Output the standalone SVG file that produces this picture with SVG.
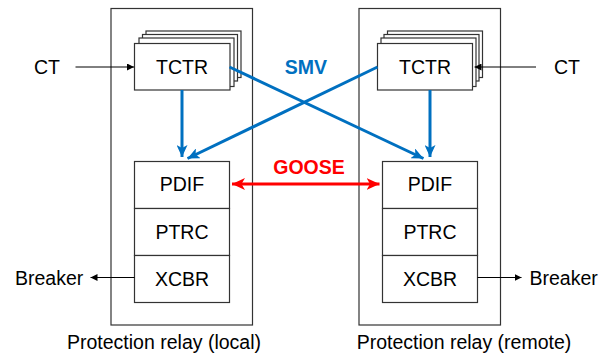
<svg xmlns="http://www.w3.org/2000/svg" width="606" height="356" viewBox="0 0 606 356">
  <style>
    .box{fill:#fff;stroke:#333;stroke-width:1.2}
    .frame{fill:none;stroke:#333;stroke-width:1.2}
    text{font-family:"Liberation Sans",Arial,sans-serif;font-size:19.5px;fill:#000}
    .mid{text-anchor:middle}
    .smv{fill:#0070C0;font-weight:bold}
    .goose{fill:#FF0000;font-weight:bold}
    .blue{stroke:#0070C0;stroke-width:3;fill:none}
    .red{stroke:#FF0000;stroke-width:3;fill:none}
    .thin{stroke:#000;stroke-width:1;fill:none}
  </style>
  <defs>
    <marker id="ab" markerUnits="userSpaceOnUse" markerWidth="12" markerHeight="11" viewBox="0 0 12 11" refX="12" refY="5.5" orient="auto">
      <path d="M0,0 L12,5.5 L0,11 L3,5.5z" fill="#0070C0"/>
    </marker>
    <marker id="ar" markerUnits="userSpaceOnUse" markerWidth="13" markerHeight="12" viewBox="0 0 13 12" refX="13" refY="6" orient="auto-start-reverse">
      <path d="M0,0 L13,6 L0,12 L3.5,6z" fill="#FF0000"/>
    </marker>
    <marker id="ak" markerUnits="userSpaceOnUse" markerWidth="7" markerHeight="7" viewBox="0 0 7 7" refX="7" refY="3.5" orient="auto">
      <path d="M0,0 L7,3.5 L0,7z" fill="#000"/>
    </marker>
  </defs>

  <!-- relay frames -->
  <g id="relay-local">
    <rect class="frame" x="111" y="8.5" width="141.5" height="316.5"/>
    <text class="mid" x="164" y="349">Protection relay (local)</text>
  </g>
  <g id="relay-remote">
    <rect class="frame" x="359" y="8.5" width="141.5" height="316.5"/>
    <text class="mid" x="464" y="349">Protection relay (remote)</text>
  </g>

  <!-- local logical nodes -->
  <g id="tctr-local">
    <rect class="box" x="146" y="31" width="95" height="46.5"/>
    <rect class="box" x="142.5" y="34.5" width="95" height="46.5"/>
    <rect class="box" x="139" y="38" width="95" height="48.5"/>
    <rect class="box" x="134.5" y="43.5" width="95.5" height="46.5"/>
    <text class="mid" x="182" y="73.5">TCTR</text>
  </g>
  <g id="pdif-local">
    <rect class="box" x="134.5" y="161.5" width="95" height="47"/>
    <text class="mid" x="182" y="191">PDIF</text>
  </g>
  <g id="ptrc-local">
    <rect class="box" x="134.5" y="208.5" width="95" height="47"/>
    <text class="mid" x="182" y="238.5">PTRC</text>
  </g>
  <g id="xcbr-local">
    <rect class="box" x="134.5" y="255.5" width="95" height="47"/>
    <text class="mid" x="182" y="285.5">XCBR</text>
  </g>

  <!-- remote logical nodes -->
  <g id="tctr-remote">
    <rect class="box" x="387.5" y="31" width="95" height="46.5"/>
    <rect class="box" x="384" y="34.5" width="95" height="46.5"/>
    <rect class="box" x="381" y="38" width="95" height="48.5"/>
    <rect class="box" x="377.5" y="43.5" width="95" height="46.5"/>
    <text class="mid" x="425" y="73.5">TCTR</text>
  </g>
  <g id="pdif-remote">
    <rect class="box" x="382.5" y="161.5" width="95" height="47"/>
    <text class="mid" x="430" y="191">PDIF</text>
  </g>
  <g id="ptrc-remote">
    <rect class="box" x="382.5" y="208.5" width="95" height="47"/>
    <text class="mid" x="430" y="238.5">PTRC</text>
  </g>
  <g id="xcbr-remote">
    <rect class="box" x="382.5" y="255.5" width="95" height="47"/>
    <text class="mid" x="430" y="285.5">XCBR</text>
  </g>

  <!-- external terminals -->
  <g id="ct-local"><text class="mid" x="47" y="73.5">CT</text></g>
  <g id="ct-remote"><text class="mid" x="567" y="73.5">CT</text></g>
  <g id="breaker-local"><text x="15" y="285">Breaker</text></g>
  <g id="breaker-remote"><text x="529.5" y="285">Breaker</text></g>

  <!-- connectors -->
  <g id="connectors">
    <line class="thin" x1="75.5" y1="67" x2="134" y2="67" marker-end="url(#ak)"/>
    <line class="thin" x1="536" y1="67" x2="474.5" y2="67" marker-end="url(#ak)"/>
    <line class="thin" x1="134.5" y1="277.5" x2="90.5" y2="277.5" marker-end="url(#ak)"/>
    <line class="thin" x1="477.5" y1="277.5" x2="521.5" y2="277.5" marker-end="url(#ak)"/>

    <line class="blue" x1="182" y1="90" x2="182" y2="157" marker-end="url(#ab)"/>
    <line class="blue" x1="430" y1="90" x2="430" y2="157" marker-end="url(#ab)"/>
    <line class="blue" x1="229.5" y1="67" x2="423.5" y2="158.5" marker-end="url(#ab)"/>
    <line class="blue" x1="377.5" y1="67" x2="187.5" y2="158.5" marker-end="url(#ab)"/>
    <text class="mid smv" x="306" y="74">SMV</text>

    <line class="red" x1="232" y1="184" x2="379.5" y2="184" marker-start="url(#ar)" marker-end="url(#ar)"/>
    <text class="mid goose" x="309" y="174">GOOSE</text>
  </g>
</svg>
